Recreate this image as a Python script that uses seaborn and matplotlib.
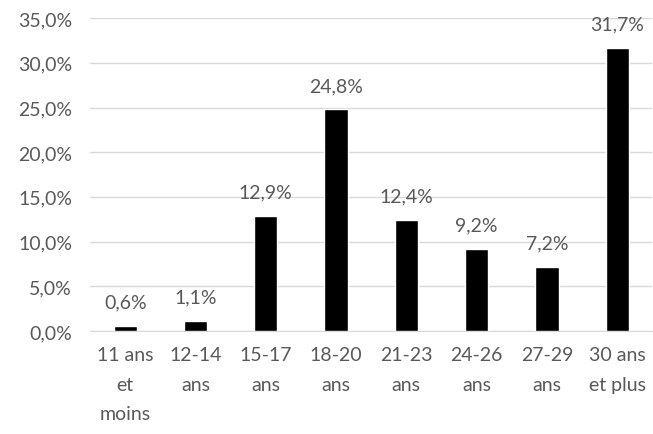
import matplotlib
matplotlib.use("Agg")
import matplotlib.pyplot as plt
import seaborn as sns
import pandas as pd

categories = ["11 ans\net\nmoins", "12-14\nans", "15-17\nans", "18-20\nans",
              "21-23\nans", "24-26\nans", "27-29\nans", "30 ans\net plus"]
values = [0.6, 1.1, 12.9, 24.8, 12.4, 9.2, 7.2, 31.7]
yticks = [0, 5, 10, 15, 20, 25, 30, 35]

sns.set_style("white")
plt.rcParams["font.family"] = ["Lato", "DejaVu Sans"]

df = pd.DataFrame({"age": categories, "pct": values})

fig = plt.figure(figsize=(6.53, 4.35), dpi=100)
ax = fig.add_axes([0.138, 0.237, 0.861, 0.719])
sns.barplot(data=df, x="age", y="pct", color="black", width=0.33, ax=ax, zorder=3)

ax.set_ylim(0, 35)
ax.set_yticks(yticks)
ax.set_yticklabels([f"{t:.1f}%".replace(".", ",") for t in yticks])
ax.grid(axis="y", color="#d9d9d9", linewidth=1, zorder=0)
ax.set_xlabel("")
ax.set_ylabel("")
for s in ["top", "right", "left"]:
    ax.spines[s].set_visible(False)
ax.spines["bottom"].set_color("#d9d9d9")
ax.tick_params(axis="y", length=0, labelsize=14, colors="#595959", pad=13)
ax.tick_params(axis="x", length=0, labelsize=14, colors="#595959", pad=11)
for lab in ax.get_xticklabels():
    lab.set_linespacing(1.9)

ax.bar_label(ax.containers[0], labels=[f"{v:.1f}%".replace(".", ",") for v in values],
             padding=11, fontsize=14, color="#595959")

fig.savefig("out.png", dpi=100)
